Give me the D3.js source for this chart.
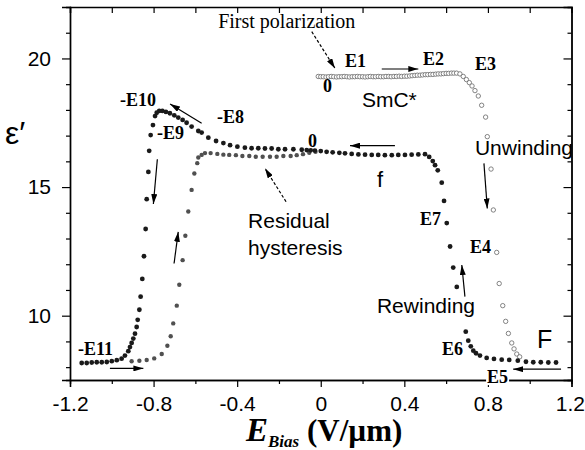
<!DOCTYPE html>
<html>
<head>
<meta charset="utf-8">
<script src="https://cdn.jsdelivr.net/npm/d3@7"></script>
<style>
  body { margin: 0; background: #fff; }
  svg { display: block; }
</style>
</head>
<body>
<svg id="chart" width="585" height="450"></svg>
<script>
// first polarization sweep (open circles), 0 -> high field
const firstE = [-0.012, 0.000, 0.012, 0.025, 0.037, 0.050, 0.062, 0.075, 0.087, 0.100,
    0.112, 0.125, 0.137, 0.150, 0.162, 0.175, 0.187, 0.200, 0.212, 0.225,
    0.237, 0.250, 0.262, 0.275, 0.287, 0.300, 0.312, 0.325, 0.337, 0.350,
    0.362, 0.375, 0.387, 0.400, 0.412, 0.425, 0.437, 0.450, 0.462, 0.475,
    0.487, 0.500, 0.512, 0.525, 0.537, 0.550, 0.562, 0.575, 0.587, 0.600,
    0.612, 0.625, 0.637, 0.650, 0.666, 0.682, 0.697, 0.711, 0.724, 0.738,
    0.754, 0.770, 0.789, 0.797, 0.815, 0.826, 0.842, 0.854, 0.871, 0.885,
    0.898, 0.914, 0.925, 0.938, 0.952];
const firstEps = [19.30, 19.29, 19.29, 19.28, 19.29, 19.30, 19.29, 19.28, 19.29, 19.29,
    19.30, 19.29, 19.28, 19.29, 19.29, 19.30, 19.29, 19.29, 19.28, 19.29,
    19.30, 19.29, 19.29, 19.30, 19.29, 19.29, 19.30, 19.30, 19.29, 19.30,
    19.30, 19.31, 19.30, 19.31, 19.31, 19.32, 19.33, 19.34, 19.35, 19.35,
    19.36, 19.37, 19.37, 19.38, 19.38, 19.39, 19.40, 19.40, 19.41, 19.42,
    19.42, 19.43, 19.43, 19.43, 19.40, 19.30, 19.18, 19.06, 18.93, 18.75,
    18.54, 18.18, 17.72, 16.96, 15.70, 14.11, 12.46, 11.25, 10.39, 9.78,
    9.31, 8.94, 8.71, 8.51, 8.40];

// sweep from +E back to -E (filled black)
const downE = [1.126, 1.089, 1.053, 1.017, 0.982, 0.943, 0.902, 0.866, 0.829, 0.794,
    0.762, 0.743, 0.730, 0.718, 0.706, 0.694, 0.651, 0.634, 0.619, 0.603,
    0.590, 0.579, 0.560, 0.547, 0.536, 0.519, 0.499, 0.467, 0.435, 0.403,
    0.371, 0.340, 0.307, 0.275, 0.244, 0.212, 0.180, 0.148, 0.116, 0.089,
    0.057, 0.028, 0.000, -0.028, -0.048, -0.067, -0.091, -0.131, -0.171, -0.203,
    -0.235, -0.267, -0.299, -0.331, -0.363, -0.399, -0.434, -0.466, -0.501, -0.538,
    -0.570, -0.586, -0.618, -0.642, -0.661, -0.682, -0.701, -0.722, -0.741, -0.758,
    -0.773, -0.785, -0.793, -0.803, -0.814, -0.821, -0.825, -0.833, -0.838, -0.846,
    -0.854, -0.862, -0.868, -0.876, -0.881, -0.889, -0.897, -0.905, -0.913, -0.921,
    -0.937, -0.953, -0.976, -1.000, -1.024, -1.048, -1.072, -1.096, -1.120, -1.144];
const downEps = [8.18, 8.18, 8.19, 8.19, 8.21, 8.25, 8.28, 8.29, 8.32, 8.36,
    8.45, 8.54, 8.64, 8.81, 9.03, 9.38, 11.12, 11.87, 12.69, 13.60,
    14.46, 15.17, 15.65, 15.85, 16.01, 16.17, 16.28, 16.27, 16.26, 16.25,
    16.25, 16.24, 16.24, 16.25, 16.25, 16.26, 16.27, 16.29, 16.31, 16.33,
    16.35, 16.37, 16.40, 16.42, 16.43, 16.44, 16.45, 16.47, 16.47, 16.47,
    16.50, 16.50, 16.51, 16.51, 16.53, 16.57, 16.63, 16.71, 16.79, 16.92,
    17.12, 17.18, 17.35, 17.50, 17.61, 17.70, 17.79, 17.87, 17.92, 17.96,
    17.96, 17.89, 17.76, 17.41, 17.02, 16.41, 15.59, 14.53, 13.37, 12.31,
    11.43, 10.74, 10.23, 9.84, 9.56, 9.30, 9.11, 8.94, 8.78, 8.62,
    8.45, 8.33, 8.27, 8.23, 8.20, 8.19, 8.19, 8.18, 8.16, 8.16];

// sweep from -E back up (filled gray)
const upE = [-0.905, -0.868, -0.833, -0.797, -0.761, -0.734, -0.718, -0.706, -0.689, -0.677,
    -0.661, -0.648, -0.634, -0.618, -0.605, -0.591, -0.586, -0.570, -0.554, -0.527,
    -0.495, -0.466, -0.438, -0.406, -0.375, -0.342, -0.311, -0.278, -0.243, -0.211,
    -0.179, -0.144, -0.115, -0.085, -0.055, -0.025];
const upEps = [8.23, 8.25, 8.28, 8.34, 8.51, 8.83, 9.20, 9.70, 10.39, 11.20,
    12.16, 13.11, 14.05, 14.89, 15.53, 15.93, 16.15, 16.25, 16.32, 16.32,
    16.29, 16.26, 16.25, 16.24, 16.21, 16.21, 16.18, 16.18, 16.18, 16.18,
    16.21, 16.21, 16.24, 16.28, 16.33, 16.37];

const xTicks = [-1.2, -0.8, -0.4, 0, 0.4, 0.8, 1.2];
const xMinor = [-1.0, -0.6, -0.2, 0.2, 0.6, 1.0];
const yTicks = [10, 15, 20];
const yMinor = [8, 9, 11, 12, 13, 14, 16, 17, 18, 19, 21];

const svg = d3.select("#chart");
const box = { left: 70, right: 571.5, top: 7, bottom: 380 };

const x = d3.scaleLinear().domain([-1.2, 1.2]).range([box.left, box.right]);
const y = d3.scaleLinear().domain([7.5, 22]).range([box.bottom, box.top]);

const sans = "'Liberation Sans', Arial, sans-serif";
const serif = "'Liberation Serif', 'Times New Roman', serif";

// arrow heads
const defs = svg.append("defs");
defs.append("marker")
    .attr("id", "head")
    .attr("viewBox", "0 0 10 6")
    .attr("refX", 10).attr("refY", 3)
    .attr("markerUnits", "userSpaceOnUse")
    .attr("markerWidth", 10).attr("markerHeight", 6)
    .attr("orient", "auto")
    .append("path").attr("d", "M0,0 L10,3 L0,6 Z").attr("fill", "#000");

// axes
function styleAxis(g) {
    g.select(".domain").attr("stroke", "#000").attr("stroke-width", 1.4);
    g.selectAll(".tick line").attr("stroke", "#000").attr("stroke-width", 1.2);
    g.selectAll("text").attr("font-family", sans).attr("font-size", 21).attr("fill", "#000");
}
const fmt = d => d === 0 ? "0" : d.toFixed(1);

const xAxis = svg.append("g").attr("transform", `translate(0,${box.bottom})`)
    .call(d3.axisBottom(x).tickValues(xTicks).tickSize(7).tickPadding(9).tickFormat(fmt))
    .call(styleAxis);
// last label sits against the right edge
xAxis.selectAll(".tick text").filter(d => d === 1.2).attr("text-anchor", "end").attr("dx", 13);

svg.append("g").attr("transform", `translate(0,${box.bottom})`)
    .call(d3.axisBottom(x).tickValues(xMinor).tickSize(4).tickFormat(""))
    .call(styleAxis);
svg.append("g").attr("transform", `translate(0,${box.top})`)
    .call(d3.axisTop(x).tickValues(xTicks.concat(xMinor)).tickSize(-6).tickFormat(""))
    .call(styleAxis);

svg.append("g").attr("transform", `translate(${box.left},0)`)
    .call(d3.axisLeft(y).tickValues(yTicks).tickSize(8).tickPadding(11).tickFormat(d3.format("d")))
    .call(styleAxis);
svg.append("g").attr("transform", `translate(${box.left},0)`)
    .call(d3.axisLeft(y).tickValues(yMinor).tickSize(4).tickFormat(""))
    .call(styleAxis);
svg.append("g").attr("transform", `translate(${box.right},0)`)
    .call(d3.axisRight(y).tickValues(yTicks).tickSize(-8).tickFormat(""))
    .call(styleAxis);
svg.append("g").attr("transform", `translate(${box.right},0)`)
    .call(d3.axisRight(y).tickValues(yMinor).tickSize(-4).tickFormat(""))
    .call(styleAxis);

// axis titles
const xt = svg.append("text")
    .attr("x", 246).attr("y", 441)
    .attr("font-family", serif).attr("font-weight", "bold").attr("fill", "#000");
xt.append("tspan").attr("font-style", "italic").attr("font-size", 33).text("E");
xt.append("tspan").attr("font-style", "italic").attr("font-size", 17).attr("dy", 6).text("Bias");
xt.append("tspan").attr("font-size", 31).attr("dy", -6).text(" (V/\u00b5m)");

svg.append("text")
    .attr("x", 5).attr("y", 144)
    .attr("font-family", sans).attr("font-size", 32).attr("fill", "#000")
    .text("\u03b5\u2032");

// data
const zip = (a, b) => a.map((v, i) => [v, b[i]]);

svg.append("g").selectAll("circle")
    .data(zip(firstE, firstEps)).join("circle")
    .attr("cx", d => x(d[0])).attr("cy", d => y(d[1]))
    .attr("r", 2.2)
    .attr("fill", "#fff").attr("stroke", "#666").attr("stroke-width", 0.8);

svg.append("g").selectAll("circle")
    .data(zip(upE, upEps)).join("circle")
    .attr("cx", d => x(d[0])).attr("cy", d => y(d[1]))
    .attr("r", 2.2).attr("fill", "#505050");

svg.append("g").selectAll("circle")
    .data(zip(downE, downEps)).join("circle")
    .attr("cx", d => x(d[0])).attr("cy", d => y(d[1]))
    .attr("r", 2.4).attr("fill", "#1a1a1a");

// annotations
const labels = [
    { t: "First polarization", e: -0.491, v: 21.18, f: serif, s: 20, w: "normal" },
    { t: "E1", e: 0.116, v: 19.68, f: serif, s: 18, w: "bold" },
    { t: "0", e: 0.011, v: 18.71, f: serif, s: 18, w: "bold" },
    { t: "E2", e: 0.489, v: 19.74, f: serif, s: 18, w: "bold" },
    { t: "E3", e: 0.738, v: 19.55, f: serif, s: 18, w: "bold" },
    { t: "SmC*", e: 0.197, v: 18.12, f: sans, s: 21, w: "normal" },
    { t: "-E10", e: -0.961, v: 18.15, f: serif, s: 18, w: "bold" },
    { t: "-E9", e: -0.784, v: 16.87, f: serif, s: 18, w: "bold" },
    { t: "-E8", e: -0.497, v: 17.49, f: serif, s: 18, w: "bold" },
    { t: "Residual", e: -0.348, v: 13.41, f: sans, s: 21, w: "normal" },
    { t: "hysteresis", e: -0.348, v: 12.36, f: sans, s: 21, w: "normal" },
    { t: "0", e: -0.061, v: 16.57, f: serif, s: 18, w: "bold" },
    { t: "f", e: 0.269, v: 15.01, f: sans, s: 22, w: "normal" },
    { t: "Unwinding", e: 0.738, v: 16.25, f: sans, s: 21, w: "normal" },
    { t: "E7", e: 0.475, v: 13.52, f: serif, s: 18, w: "bold" },
    { t: "E4", e: 0.714, v: 12.44, f: serif, s: 18, w: "bold" },
    { t: "Rewinding", e: 0.269, v: 10.10, f: sans, s: 21, w: "normal" },
    { t: "E6", e: 0.580, v: 8.47, f: serif, s: 18, w: "bold" },
    { t: "F", e: 1.035, v: 8.74, f: sans, s: 25, w: "normal" },
    { t: "-E11", e: -1.162, v: 8.47, f: serif, s: 18, w: "bold" }
];
svg.append("g").selectAll("text")
    .data(labels).join("text")
    .attr("x", d => x(d.e)).attr("y", d => y(d.v))
    .attr("font-family", d => d.f).attr("font-size", d => d.s)
    .attr("font-weight", d => d.w).attr("fill", "#000")
    .text(d => d.t);

// E5 sits on the axis line with a white patch behind it
const e5g = svg.append("g");
const e5 = e5g.append("text")
    .attr("x", x(0.796)).attr("y", y(7.38))
    .attr("font-family", serif).attr("font-size", 18).attr("font-weight", "bold")
    .text("E5");
const bb = e5.node().getBBox();
e5g.insert("rect", "text")
    .attr("x", bb.x - 1).attr("y", bb.y + 3).attr("width", bb.width + 2).attr("height", bb.height - 5)
    .attr("fill", "#fff");

const arrows = [
    { a: [-0.043, 21.04], b: [0.068, 19.62], dash: true },
    { a: [0.292, 19.59], b: [0.467, 19.59] },
    { a: [-0.570, 17.48], b: [-0.721, 18.23] },
    { a: [-0.782, 16.08], b: [-0.801, 14.34] },
    { a: [-0.166, 14.43], b: [-0.267, 15.73], dash: true },
    { a: [0.355, 16.61], b: [0.140, 16.61] },
    { a: [0.781, 15.92], b: [0.797, 14.17] },
    { a: [0.690, 10.74], b: [0.675, 11.97] },
    { a: [1.150, 7.92], b: [0.921, 7.92] },
    { a: [-1.009, 7.95], b: [-0.849, 7.95] },
    { a: [-0.702, 12.03], b: [-0.682, 13.26] }
];
svg.append("g").selectAll("line")
    .data(arrows).join("line")
    .attr("x1", d => x(d.a[0])).attr("y1", d => y(d.a[1]))
    .attr("x2", d => x(d.b[0])).attr("y2", d => y(d.b[1]))
    .attr("stroke", "#000").attr("stroke-width", 1.2)
    .attr("stroke-dasharray", d => d.dash ? "3,2" : null)
    .attr("marker-end", "url(#head)");
</script>
</body>
</html>
